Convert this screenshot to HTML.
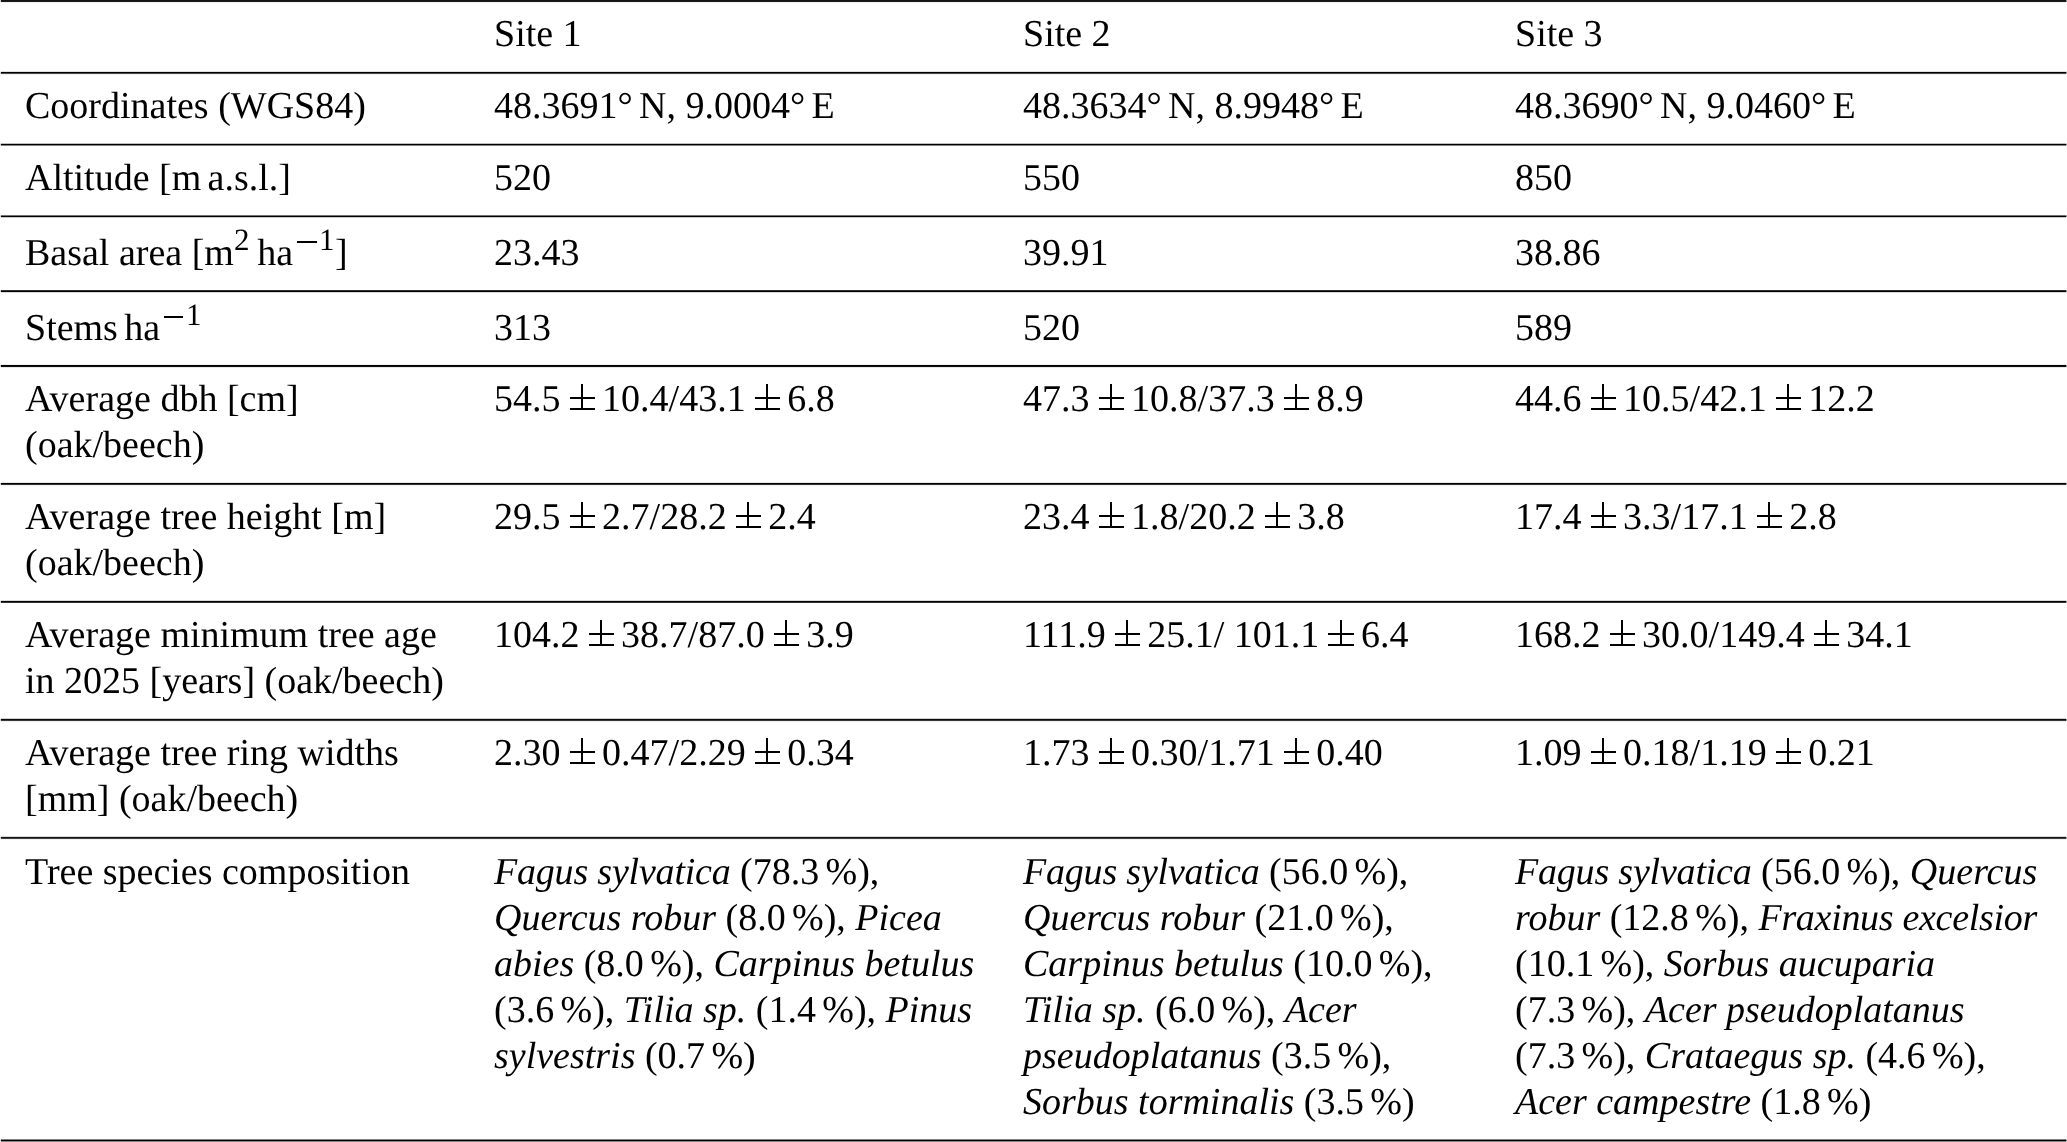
<!DOCTYPE html><html><head><meta charset="utf-8"><title>Table</title><style>

html,body{margin:0;padding:0;background:#fff;}
body{width:2067px;height:1142px;overflow:hidden;position:relative;font-family:"Liberation Serif",serif;font-size:38px;line-height:46.07px;color:#000;}
.r{position:absolute;left:0;width:2067px;-webkit-mask-image:linear-gradient(to right,rgba(0,0,0,.2) 0 1px,#000 1px 2066px,rgba(0,0,0,.45) 2066px);mask-image:linear-gradient(to right,rgba(0,0,0,.2) 0 1px,#000 1px 2066px,rgba(0,0,0,.45) 2066px);}
.c{position:absolute;white-space:nowrap;will-change:transform;line-height:46.070px;transform:scaleY(1.0);transform-origin:0 35.300px;}
.pm{display:inline-block;width:25.6px;height:26px;vertical-align:0.6px;margin:0 7px 0 9px;background:linear-gradient(#000,#000) 50% 0/2px 100% no-repeat,linear-gradient(#000,#000) 0 12.6px/100% 2px no-repeat,linear-gradient(#000,#000) 0 100%/100% 2px no-repeat;}
.sup{font-size:31px;position:relative;top:-14.7px;line-height:0;}
.mi{display:inline-block;width:19.7px;height:2px;background:#000;vertical-align:6.9px;margin:0 2.4px 0 3.7px;}
i{font-style:italic;}
.c{text-rendering:geometricPrecision;}

</style></head><body>
<div class="r" style="top:0px;height:3px;background:linear-gradient(rgb(20,20,20) 0px 1px,rgb(25,25,25) 1px 2px,rgb(240,240,240) 2px 3px)"></div>
<div class="r" style="top:71px;height:4px;background:linear-gradient(rgb(224,224,224) 0px 1px,rgb(0,0,0) 1px 2px,rgb(77,77,77) 2px 3px,rgb(242,242,242) 3px 4px)"></div>
<div class="r" style="top:143px;height:3px;background:linear-gradient(rgb(191,191,191) 0px 1px,rgb(0,0,0) 1px 2px,rgb(128,128,128) 2px 3px)"></div>
<div class="r" style="top:215px;height:3px;background:linear-gradient(rgb(115,115,115) 0px 1px,rgb(0,0,0) 1px 2px,rgb(204,204,204) 2px 3px)"></div>
<div class="r" style="top:290px;height:3px;background:linear-gradient(rgb(51,51,51) 0px 1px,rgb(0,0,0) 1px 2px,rgb(217,217,217) 2px 3px)"></div>
<div class="r" style="top:364px;height:4px;background:linear-gradient(rgb(240,240,240) 0px 1px,rgb(0,0,0) 1px 2px,rgb(13,13,13) 2px 3px,rgb(232,232,232) 3px 4px)"></div>
<div class="r" style="top:482px;height:4px;background:linear-gradient(rgb(232,232,232) 0px 1px,rgb(0,0,0) 1px 2px,rgb(51,51,51) 2px 3px,rgb(242,242,242) 3px 4px)"></div>
<div class="r" style="top:600px;height:3px;background:linear-gradient(rgb(217,217,217) 0px 1px,rgb(0,0,0) 1px 2px,rgb(51,51,51) 2px 3px)"></div>
<div class="r" style="top:718px;height:4px;background:linear-gradient(rgb(209,209,209) 0px 1px,rgb(10,10,10) 1px 2px,rgb(56,56,56) 2px 3px,rgb(240,240,240) 3px 4px)"></div>
<div class="r" style="top:836px;height:4px;background:linear-gradient(rgb(217,217,217) 0px 1px,rgb(20,20,20) 1px 2px,rgb(64,64,64) 2px 3px,rgb(242,242,242) 3px 4px)"></div>
<div class="r" style="top:1139px;height:3px;background:linear-gradient(rgb(128,128,128) 0px 1px,rgb(0,0,0) 1px 2px,rgb(135,135,135) 2px 3px)"></div>
<div class="c" style="left:493.7px;top:10.80px">Site 1</div>
<div class="c" style="left:1023.4px;top:10.80px">Site 2</div>
<div class="c" style="left:1515.2px;top:10.80px">Site 3</div>
<div class="c" style="left:25.0px;top:82.70px">Coordinates (WGS84)</div>
<div class="c" style="left:493.7px;top:82.70px">48.3691° N, 9.0004° E</div>
<div class="c" style="left:1023.4px;top:82.70px">48.3634° N, 8.9948° E</div>
<div class="c" style="left:1515.2px;top:82.70px">48.3690° N, 9.0460° E</div>
<div class="c" style="left:25.0px;top:154.70px">Altitude [m a.s.l.]</div>
<div class="c" style="left:493.7px;top:154.70px">520</div>
<div class="c" style="left:1023.4px;top:154.70px">550</div>
<div class="c" style="left:1515.2px;top:154.70px">850</div>
<div class="c" style="left:25.0px;top:229.70px">Basal area [m<span class="sup" style="margin-right:1.6px">2</span> ha<span class="sup" style="margin-right:0.6px"><span class="mi"></span>1</span>]</div>
<div class="c" style="left:493.7px;top:229.70px">23.43</div>
<div class="c" style="left:1023.4px;top:229.70px">39.91</div>
<div class="c" style="left:1515.2px;top:229.70px">38.86</div>
<div class="c" style="left:25.0px;top:304.90px">Stems ha<span class="sup" style="margin-right:0.6px"><span class="mi"></span>1</span></div>
<div class="c" style="left:493.7px;top:304.90px">313</div>
<div class="c" style="left:1023.4px;top:304.90px">520</div>
<div class="c" style="left:1515.2px;top:304.90px">589</div>
<div class="c" style="left:25.0px;top:376.30px">Average dbh [cm]<br>(oak/beech)</div>
<div class="c" style="left:493.7px;top:376.30px">54.5<span class="pm"></span>10.4/43.1<span class="pm"></span>6.8</div>
<div class="c" style="left:1023.4px;top:376.30px">47.3<span class="pm"></span>10.8/37.3<span class="pm"></span>8.9</div>
<div class="c" style="left:1515.2px;top:376.30px">44.6<span class="pm"></span>10.5/42.1<span class="pm"></span>12.2</div>
<div class="c" style="left:25.0px;top:493.70px">Average tree height [m]<br>(oak/beech)</div>
<div class="c" style="left:493.7px;top:493.70px">29.5<span class="pm"></span>2.7/28.2<span class="pm"></span>2.4</div>
<div class="c" style="left:1023.4px;top:493.70px">23.4<span class="pm"></span>1.8/20.2<span class="pm"></span>3.8</div>
<div class="c" style="left:1515.2px;top:493.70px">17.4<span class="pm"></span>3.3/17.1<span class="pm"></span>2.8</div>
<div class="c" style="left:25.0px;top:611.70px">Average minimum tree age<br>in 2025 [years] (oak/beech)</div>
<div class="c" style="left:493.7px;top:611.70px">104.2<span class="pm"></span>38.7/87.0<span class="pm"></span>3.9</div>
<div class="c" style="left:1023.4px;top:611.70px">111.9<span class="pm"></span>25.1/ 101.1<span class="pm"></span>6.4</div>
<div class="c" style="left:1515.2px;top:611.70px">168.2<span class="pm"></span>30.0/149.4<span class="pm"></span>34.1</div>
<div class="c" style="left:25.0px;top:729.70px">Average tree ring widths<br>[mm] (oak/beech)</div>
<div class="c" style="left:493.7px;top:729.70px">2.30<span class="pm"></span>0.47/2.29<span class="pm"></span>0.34</div>
<div class="c" style="left:1023.4px;top:729.70px">1.73<span class="pm"></span>0.30/1.71<span class="pm"></span>0.40</div>
<div class="c" style="left:1515.2px;top:729.70px">1.09<span class="pm"></span>0.18/1.19<span class="pm"></span>0.21</div>
<div class="c" style="left:25.0px;top:848.90px">Tree species composition</div>
<div class="c" style="left:493.7px;top:848.90px"><i style="letter-spacing:-0.2px">Fagus sylvatica</i> (78.3 %),<br><i>Quercus robur</i> (8.0 %), <i>Picea</i><br><i>abies</i> (8.0 %), <i>Carpinus betulus</i><br>(3.6 %), <i>Tilia sp.</i> (1.4 %), <i>Pinus</i><br><i>sylvestris</i> (0.7 %)</div>
<div class="c" style="left:1023.4px;top:848.90px"><i style="letter-spacing:-0.2px">Fagus sylvatica</i> (56.0 %),<br><i>Quercus robur</i> (21.0 %),<br><i>Carpinus betulus</i> (10.0 %),<br><i>Tilia sp.</i> (6.0 %), <i>Acer</i><br><i>pseudoplatanus</i> (3.5 %),<br><i>Sorbus torminalis</i> (3.5 %)</div>
<div class="c" style="left:1515.2px;top:848.90px"><i style="letter-spacing:-0.2px">Fagus sylvatica</i> (56.0 %), <i>Quercus</i><br><i>robur</i> (12.8 %), <i style="letter-spacing:-0.3px">Fraxinus excelsior</i><br>(10.1 %), <i>Sorbus aucuparia</i><br>(7.3 %), <i>Acer pseudoplatanus</i><br>(7.3 %), <i>Crataegus sp.</i> (4.6 %),<br><i>Acer campestre</i> (1.8 %)</div>
</body></html>
